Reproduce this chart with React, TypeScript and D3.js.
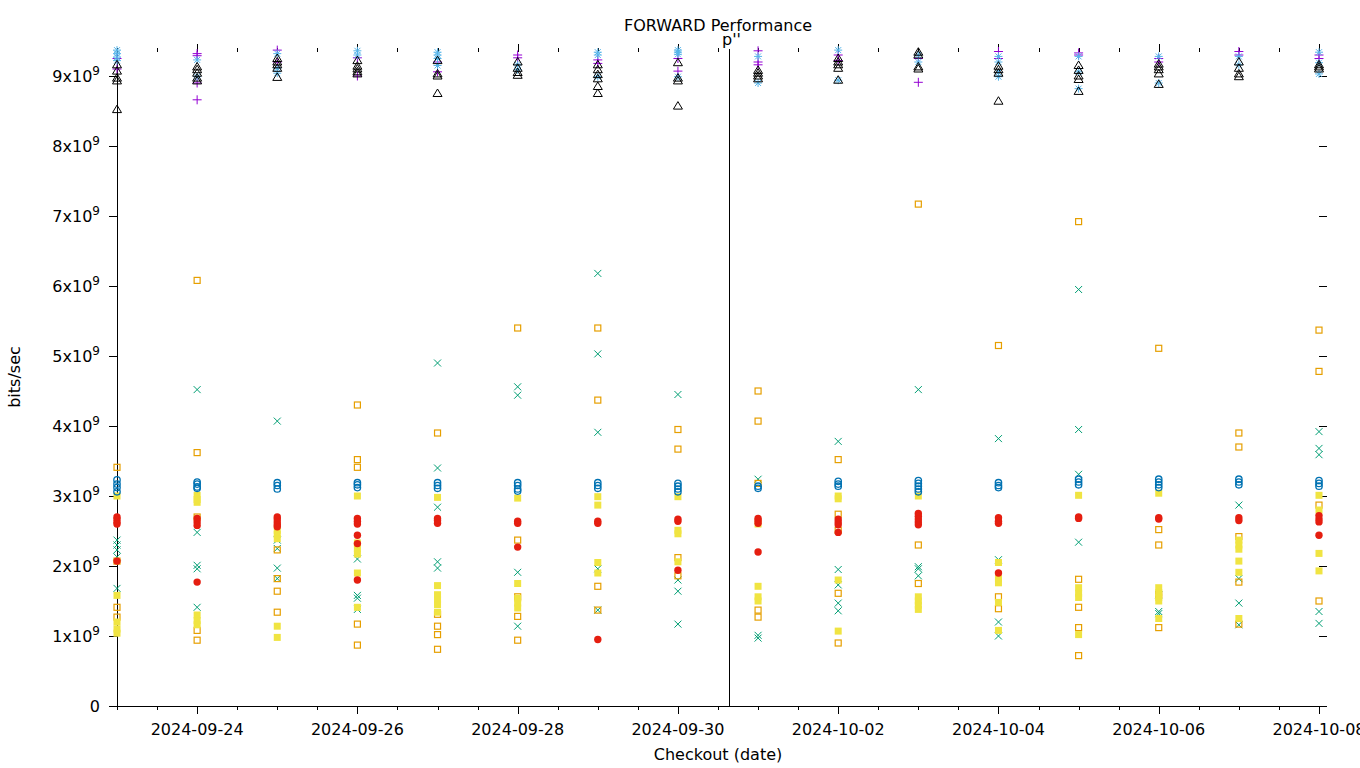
import React from "react";
import * as d3 from "d3";

// ---------- data ----------
const checkoutDates = [
  "2024-09-23", "2024-09-24", "2024-09-25", "2024-09-26", "2024-09-27", "2024-09-28",
  "2024-09-29", "2024-09-30", "2024-10-01", "2024-10-02", "2024-10-03", "2024-10-04",
  "2024-10-05", "2024-10-06", "2024-10-07", "2024-10-08",
];

const xTickLabels = [
  "2024-09-24", "2024-09-26", "2024-09-28", "2024-09-30",
  "2024-10-02", "2024-10-04", "2024-10-06", "2024-10-08",
];

const yTickValues = [0, 1, 2, 3, 4, 5, 6, 7, 8, 9]; // x10^9

const markerDate = "2024-09-30T15:17:00Z";
const markerLabel = "p''";

// values in units of 1e9 bits/sec, one list per checkout date
const purplePlus = [
  [9.25, 9.1], [9.32, 9.29, 8.9, 8.66], [9.37, 9.2], [9.26, 9.0], [9.2, 9.06], [9.3, 9.26],
  [9.23, 9.18], [9.25, 9.07], [9.36, 9.2, 9.16], [9.3, 9.22], [9.25, 8.91], [9.35, 9.25],
  [9.33, 9.3], [9.2, 9.25], [9.35, 9.3], [9.3, 9.25],
];
const greenCross = [
  [2.37, 2.3, 2.23, 2.13, 1.68], [4.52, 2.48, 2.01, 1.96, 1.41], [4.07, 2.37, 2.25, 1.97, 1.82],
  [2.1, 1.58, 1.54, 1.38], [4.9, 3.4, 2.84, 2.06, 1.97], [4.56, 4.44, 1.91, 1.14],
  [6.18, 5.03, 3.91, 1.96, 1.37], [4.45, 1.8, 1.64, 1.17], [3.24, 1.01, 0.97],
  [3.78, 1.95, 1.73, 1.47, 1.36], [4.52, 1.99, 1.96, 1.86], [3.82, 2.09, 1.2, 1.0],
  [5.95, 3.95, 3.31, 2.34], [1.59, 1.35, 1.32], [2.87, 1.82, 1.47, 1.16],
  [3.92, 3.68, 3.59, 1.35, 1.18],
];
const lightBlueStar = [
  [9.37, 9.32, 9.27, 9.22], [9.23, 8.99], [9.32, 9.11, 9.04], [9.36, 9.3], [9.34, 9.3, 9.25, 9.15],
  [9.16, 9.09], [9.34, 9.3, 8.99], [9.37, 9.34, 9.31, 8.99], [9.28, 8.9], [9.37, 8.94], [9.3, 9.2],
  [9.28, 9.2, 9.05, 8.99], [9.28, 9.06, 8.82], [9.28, 8.9], [9.28, 9.16], [9.34, 9.19, 9.03],
];
const orangeSquare = [
  [3.41, 2.07, 1.41, 1.27], [6.08, 3.62, 2.7, 1.08, 0.94], [2.23, 1.82, 1.64, 1.34],
  [4.3, 3.52, 3.41, 1.17, 0.87], [3.9, 1.31, 1.14, 1.02, 0.81], [5.4, 2.37, 1.56, 1.28, 0.94],
  [5.4, 4.37, 1.71, 1.37], [3.95, 3.67, 2.12, 1.86], [4.5, 4.07, 3.18, 1.37, 1.27],
  [3.52, 2.74, 2.51, 1.61, 0.9], [7.17, 2.3, 1.75], [5.15, 1.56, 1.39],
  [6.92, 1.81, 1.41, 1.12, 0.72], [5.11, 2.52, 2.3, 1.59, 1.12], [3.9, 3.7, 2.42, 1.77, 1.17],
  [5.37, 4.78, 2.87, 1.5],
];
const yellowFilled = [
  [3.0, 1.58, 1.2, 1.1, 1.04], [3.01, 2.95, 2.91, 1.3, 1.22, 1.16], [2.51, 2.45, 2.39, 1.14, 0.98],
  [3.0, 2.33, 2.25, 2.17, 1.9, 1.41], [2.98, 1.72, 1.59, 1.52, 1.45, 1.34],
  [2.97, 1.75, 1.54, 1.47, 1.4], [2.99, 2.87, 2.05, 1.9], [2.99, 2.51, 2.46, 2.06],
  [2.6, 1.71, 1.56, 1.5], [3.0, 2.96, 1.8, 1.07], [3.0, 1.56, 1.5, 1.44, 1.38],
  [2.05, 1.82, 1.76, 1.48, 1.08], [3.01, 1.69, 1.61, 1.55, 1.02],
  [3.04, 1.69, 1.62, 1.55, 1.5, 1.25], [2.37, 2.3, 2.24, 2.07, 1.91, 1.25], [3.01, 2.8, 2.18, 1.93],
];
const blueCircle = [
  [3.23, 3.17, 3.12, 3.06], [3.2, 3.17, 3.13, 3.11], [3.19, 3.15, 3.1], [3.19, 3.16, 3.12],
  [3.19, 3.15, 3.11], [3.19, 3.15, 3.1, 3.07], [3.19, 3.15, 3.11], [3.18, 3.14, 3.1, 3.06],
  [3.14, 3.11], [3.21, 3.17, 3.14], [3.22, 3.18, 3.14, 3.1, 3.06], [3.19, 3.15, 3.12],
  [3.24, 3.2, 3.16], [3.24, 3.2, 3.16, 3.12], [3.24, 3.2, 3.16], [3.22, 3.18, 3.14],
];
const redFilled = [
  [2.7, 2.67, 2.63, 2.6, 2.07], [2.68, 2.63, 2.58, 1.77], [2.7, 2.67, 2.63, 2.59, 2.56],
  [2.68, 2.64, 2.6, 2.44, 2.32, 1.8], [2.68, 2.65, 2.61], [2.64, 2.61, 2.27], [2.64, 2.61, 0.95],
  [2.67, 2.64, 1.94], [2.68, 2.65, 2.61, 2.2], [2.67, 2.63, 2.59, 2.48],
  [2.75, 2.71, 2.67, 2.63, 2.59], [2.69, 2.64, 2.61, 1.9], [2.7, 2.68], [2.69, 2.67],
  [2.69, 2.65], [2.72, 2.67, 2.63, 2.44],
];
const blackTriangle = [
  [9.16, 9.07, 8.97, 8.93, 8.52], [9.13, 9.09, 9.04, 8.97, 8.93], [9.25, 9.2, 9.16, 9.11, 8.98],
  [9.22, 9.14, 9.1, 9.06, 9.03], [9.22, 9.03, 9.0, 8.75], [9.2, 9.11, 9.05, 9.01],
  [9.16, 9.09, 9.02, 8.96, 8.85, 8.75], [9.19, 8.97, 8.93, 8.57], [9.08, 9.04, 9.0, 8.96],
  [9.25, 9.2, 9.16, 9.11, 8.94], [9.34, 9.3, 9.13, 9.1], [9.14, 9.09, 9.04, 8.64],
  [9.15, 9.08, 9.0, 8.95, 8.78], [9.17, 9.13, 9.09, 9.03, 8.88], [9.2, 9.11, 9.03, 8.99],
  [9.16, 9.13, 9.1],
];

const seriesList = [
  { values: purplePlus, color: "#9400d3", shape: "plus" },
  { values: greenCross, color: "#009e73", shape: "cross" },
  { values: lightBlueStar, color: "#56b4e9", shape: "star" },
  { values: orangeSquare, color: "#e69f00", shape: "square" },
  { values: yellowFilled, color: "#f0e442", shape: "fsquare" },
  { values: blueCircle, color: "#0072b2", shape: "circle" },
  { values: redFilled, color: "#e51e10", shape: "fcircle" },
  { values: blackTriangle, color: "#000000", shape: "triangle" },
];

// ---------- layout ----------
const W = 1360;
const H = 768;
const LEFT = 117;
const RIGHT = 1319;
const TOP = 52;
const BOTTOM = 706;
const FONT = "'DejaVu Sans', sans-serif";

const parse = (s: string) => new Date(s.length > 10 ? s : s + "T00:00:00Z");

function Marker({ shape, cx, cy, color }: { shape: string; cx: number; cy: number; color: string }) {
  const s = 3.5;
  switch (shape) {
    case "plus":
      return (
        <path d={`M${cx - 4.5},${cy}H${cx + 4.5}M${cx},${cy - 4.5}V${cy + 4.5}`} stroke={color} strokeWidth={1} fill="none" />
      );
    case "cross":
      return (
        <path d={`M${cx - s},${cy - s}L${cx + s},${cy + s}M${cx - s},${cy + s}L${cx + s},${cy - s}`} stroke={color} strokeWidth={1} fill="none" />
      );
    case "star":
      return (
        <path
          d={`M${cx - 4},${cy}H${cx + 4}M${cx},${cy - 4}V${cy + 4}M${cx - 3},${cy - 3}L${cx + 3},${cy + 3}M${cx - 3},${cy + 3}L${cx + 3},${cy - 3}`}
          stroke={color}
          strokeWidth={1}
          fill="none"
        />
      );
    case "square":
      return <rect x={cx - 3} y={cy - 3} width={6} height={6} stroke={color} strokeWidth={1.2} fill="none" />;
    case "fsquare":
      return <rect x={cx - 3.5} y={cy - 3.5} width={7} height={7} fill={color} />;
    case "circle":
      return <circle cx={cx} cy={cy} r={3.2} stroke={color} strokeWidth={1.3} fill="none" />;
    case "fcircle":
      return <circle cx={cx} cy={cy} r={3.7} fill={color} />;
    case "triangle":
      return (
        <path d={`M${cx},${cy - 4.5}L${cx + 4.5},${cy + 3}L${cx - 4.5},${cy + 3}Z`} stroke={color} strokeWidth={1} fill="none" />
      );
    default:
      return null;
  }
}

export default function App() {
  const x = d3
    .scaleUtc()
    .domain([parse(checkoutDates[0]), parse(checkoutDates[checkoutDates.length - 1])])
    .range([LEFT, RIGHT]);
  const y = d3.scaleLinear().domain([0, 9.343]).range([BOTTOM, TOP]);

  const majorDates = xTickLabels.map(parse);
  const majorSet = new Set(majorDates.map((d) => +d));
  const minorDates = d3
    .utcHour.every(12)!
    .range(parse(checkoutDates[0]), new Date(+parse(checkoutDates[checkoutDates.length - 1]) + 1))
    .filter((d) => !majorSet.has(+d));

  const mx = Math.round(x(parse(markerDate))) + 0.5;

  return (
    <svg
      width={W}
      height={H}
      style={{ position: "absolute", left: 0, top: 0, background: "#fff" }}
      fontFamily={FONT}
    >
      {/* title */}
      <text x={718} y={31} textAnchor="middle" fontSize={16} fill="#000">
        FORWARD Performance
      </text>

      {/* axes lines */}
      <g stroke="#000" strokeWidth={1} shapeRendering="crispEdges">
        <line x1={LEFT + 0.5} x2={LEFT + 0.5} y1={TOP - 4} y2={BOTTOM} />
        <line x1={LEFT} x2={RIGHT + 8} y1={BOTTOM + 0.5} y2={BOTTOM + 0.5} />
        {/* y ticks, left and right */}
        {yTickValues.map((v) => (
          <g key={"yt" + v}>
            <line x1={LEFT - 8} x2={LEFT} y1={Math.round(y(v)) + 0.5} y2={Math.round(y(v)) + 0.5} />
            <line x1={RIGHT} x2={RIGHT + 8} y1={Math.round(y(v)) + 0.5} y2={Math.round(y(v)) + 0.5} />
          </g>
        ))}
        {/* x major ticks bottom & top */}
        {majorDates.map((d, i) => (
          <g key={"xm" + i}>
            <line x1={Math.round(x(d)) + 0.5} x2={Math.round(x(d)) + 0.5} y1={BOTTOM} y2={BOTTOM + 8} />
            <line x1={Math.round(x(d)) + 0.5} x2={Math.round(x(d)) + 0.5} y1={TOP - 8} y2={TOP} />
          </g>
        ))}
        {minorDates.map((d, i) => (
          <g key={"xn" + i}>
            <line x1={Math.round(x(d)) + 0.5} x2={Math.round(x(d)) + 0.5} y1={BOTTOM} y2={BOTTOM + 4} />
            <line x1={Math.round(x(d)) + 0.5} x2={Math.round(x(d)) + 0.5} y1={TOP - 4} y2={TOP} />
          </g>
        ))}
        {/* vertical marker line */}
        <line x1={mx} x2={mx} y1={TOP - 3} y2={BOTTOM} />
      </g>

      <text x={mx + 2} y={45} textAnchor="middle" fontSize={16} fill="#000">
        {markerLabel}
      </text>

      {/* y tick labels */}
      {yTickValues.map((v) => (
        <text key={"yl" + v} x={100} y={y(v) + 6} textAnchor="end" fontSize={16} fill="#000">
          {v === 0 ? (
            "0"
          ) : (
            <>
              {`${v}x10`}
              <tspan fontSize={12} dy={-7}>
                9
              </tspan>
            </>
          )}
        </text>
      ))}

      {/* x tick labels */}
      {majorDates.map((d, i) => (
        <text key={"xl" + i} x={x(d)} y={735} textAnchor="middle" fontSize={16} fill="#000">
          {xTickLabels[i]}
        </text>
      ))}

      {/* axis titles */}
      <text x={718} y={760} textAnchor="middle" fontSize={16} fill="#000">
        Checkout (date)
      </text>
      <text transform={`translate(20,377) rotate(-90)`} textAnchor="middle" fontSize={16} fill="#000">
        bits/sec
      </text>

      {/* points */}
      {seriesList.map((s, si) => (
        <g key={"s" + si}>
          {s.values.map((vals, di) =>
            vals.map((v, vi) => (
              <Marker
                key={`${si}-${di}-${vi}`}
                shape={s.shape}
                cx={x(parse(checkoutDates[di]))}
                cy={y(v)}
                color={s.color}
              />
            ))
          )}
        </g>
      ))}
    </svg>
  );
}
